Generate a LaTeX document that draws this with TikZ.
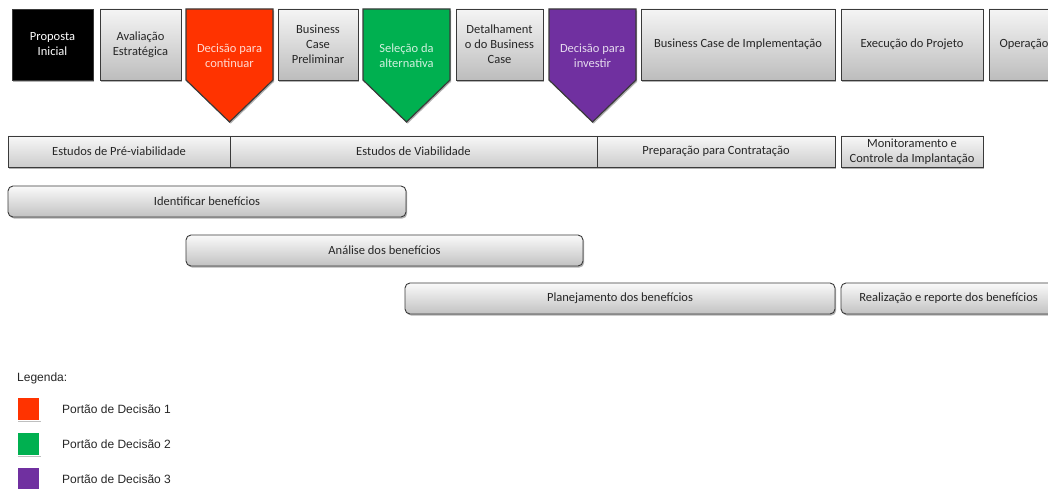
\documentclass[tikz,border=0pt]{standalone}
\usepackage{fontspec}
\setmainfont{Carlito}
\newfontfamily\legendfont{Liberation Sans}
\usetikzlibrary{shadows}
\definecolor{gateone}{HTML}{FF3300}
\definecolor{gatetwo}{HTML}{00B050}
\definecolor{gatethree}{HTML}{7030A0}
\definecolor{edge}{HTML}{3A3A3A}
\definecolor{txt}{HTML}{262626}
\tikzset{
  base/.style={draw=edge, line width=0.9pt, align=center, text=txt,
    font=\fontsize{12.5}{15}\selectfont, inner sep=1pt,
    drop shadow={shadow xshift=1.2pt, shadow yshift=-1.6pt, fill=black, opacity=0.3}},
  stagebox/.style={base, shading=axis, top color=white!96!black, bottom color=white!74!black},
  phasebox/.style={base, shading=axis, top color=white!97!black, bottom color=white!80!black},
  benefit/.style={base, rounded corners=5pt, shading=axis, top color=white!98!black, bottom color=white!76!black},
  gate/.style={draw=edge, line width=1.2pt, line join=miter,
    drop shadow={shadow xshift=1.2pt, shadow yshift=-1.6pt, fill=black, opacity=0.3}},
  gatetext/.style={align=center, font=\fontsize{12.5}{15}\selectfont},
  swatch/.style={draw=white, line width=1.2pt, minimum size=23pt, inner sep=0pt,
    drop shadow={shadow xshift=0.8pt, shadow yshift=-1.2pt, fill=black, opacity=0.25}},
  legendtext/.style={anchor=west, inner sep=0pt, text=txt, font=\legendfont\fontsize{12}{14}\selectfont}
}
\begin{document}
\begin{tikzpicture}[x=1pt, y=-1pt]
\useasboundingbox (0,0) rectangle (1048,489);
\clip (0,0) rectangle (1048,489);

% stages of the life cycle (top row)
\node[base, fill=black, text=white, minimum width=81pt, minimum height=71pt] (proposta) at (52.5,44.5) {Proposta\\Inicial};
\node[stagebox, minimum width=81pt, minimum height=71pt] (avaliacao) at (140.5,44.5) {Avaliação\\Estratégica};
\node[stagebox, minimum width=80pt, minimum height=71pt] (bcprelim) at (318,44.5) {Business\\Case\\Preliminar};
\node[stagebox, minimum width=87pt, minimum height=71pt] (detalhe) at (499.5,44.5) {Detalhament\\o do Business\\Case};
\node[stagebox, minimum width=194pt, minimum height=71pt] (bcimpl) at (738,44.5) {Business Case de Implementação};
\node[stagebox, minimum width=142pt, minimum height=71pt] (execucao) at (912,44.5) {Execução do Projeto};
\node[stagebox, minimum width=70pt, minimum height=71pt] (operacao) at (1024,44.5) {Operação};

% decision gates
\draw[gate, fill=gateone] (186,9) -- (273,9) -- (273,80) -- (229.5,122) -- (186,80) -- cycle;
\node[gatetext, text=white!82!gateone] (gcontinuar) at (229.5,55.5) {Decisão para\\continuar};
\draw[gate, fill=gatetwo] (363,9) -- (450,9) -- (450,80) -- (406.5,122) -- (363,80) -- cycle;
\node[gatetext, text=white!82!gatetwo] (galternativa) at (406.5,55.5) {Seleção da\\alternativa};
\draw[gate, fill=gatethree] (549,9) -- (636,9) -- (636,80) -- (592.5,122) -- (549,80) -- cycle;
\node[gatetext, text=white!82!gatethree] (ginvestir) at (592.5,55.5) {Decisão para\\investir};

% study phases (second row)
\node[phasebox, minimum width=222pt, minimum height=31pt] (previab) at (119,151.5) {Estudos de Pré-viabilidade};
\node[phasebox, minimum width=367pt, minimum height=31pt] (viab) at (413.5,151.5) {Estudos de Viabilidade};
\node[phasebox, minimum width=238pt, minimum height=31pt] (contrat) at (716,151.5) {Preparação para Contratação};
\node[phasebox, minimum width=142pt, minimum height=31pt] (monit) at (912,151.5) {Monitoramento e\\Controle da Implantação};

% benefit management activities
\node[benefit, minimum width=398pt, minimum height=31pt] (identificar) at (207,201.5) {Identificar benefícios};
\node[benefit, minimum width=397pt, minimum height=31pt] (analise) at (384.5,250.5) {Análise dos benefícios};
\node[benefit, minimum width=430pt, minimum height=31pt] (planej) at (620,298.5) {Planejamento dos benefícios};
\node[benefit, minimum width=215pt, minimum height=31pt] (realiz) at (948.5,298.5) {Realização e reporte dos benefícios};

% legend
\node[legendtext] (leg) at (17,378) {Legenda:};
\node[swatch, fill=gateone] (sw1) at (28.5,409) {};
\node[legendtext] (lg1) at (62,409) {Portão de Decisão 1};
\node[swatch, fill=gatetwo] (sw2) at (28.5,444) {};
\node[legendtext] (lg2) at (62,444) {Portão de Decisão 2};
\node[swatch, fill=gatethree] (sw3) at (28.5,479) {};
\node[legendtext] (lg3) at (62,479) {Portão de Decisão 3};
\end{tikzpicture}
\end{document}
